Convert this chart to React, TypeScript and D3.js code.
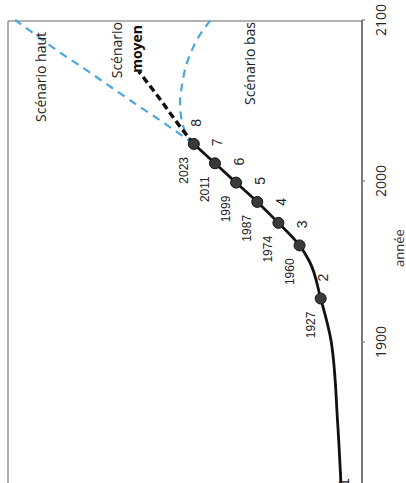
import React from 'react';
import * as d3 from 'd3';

// Historical world population (billions)
const historyYears = [1800, 1850, 1900, 1927, 1950, 1960, 1974, 1987, 1999, 2011, 2023];
const historyPop = [1.0, 1.2, 1.5, 2.0, 2.53, 3.0, 4.0, 5.0, 6.0, 7.0, 8.0];

// Milestones (each additional billion)
const milestoneYears = [1800, 1927, 1960, 1974, 1987, 1999, 2011, 2023];
const milestonePop = [1, 2, 3, 4, 5, 6, 7, 8];

// Projections
const hautYears = [2023, 2030, 2040, 2050, 2060, 2070, 2080, 2090, 2100];
const hautPop = [8, 8.75, 9.85, 11.0, 12.1, 13.2, 14.35, 15.4, 16.45];

const moyenYears = [2023, 2035, 2050, 2068];
const moyenPop = [8, 8.72, 9.55, 10.6];

const basYears = [2023, 2030, 2040, 2050, 2060, 2070, 2080, 2090, 2100];
const basPop = [8, 8.38, 8.6, 8.65, 8.55, 8.4, 8.13, 7.75, 7.2];

const axisTicks = [1900, 2000, 2100];

type P = [number, number];
const zip = (a: number[], b: number[]): P[] => a.map((v, i) => [v, b[i]]);

const W = 406;
const H = 483;

export default function App() {
  const frameLeft = 8;
  const frameTop = 21;
  const axisX = 362;

  const y = d3.scaleLinear().domain([1900, 2100]).range([342, 20]);
  const x = d3.scaleLinear().domain([0, 8]).range([363, 363 - 8 * 21.15]);

  const line = d3
    .line<P>()
    .x((d) => x(d[1]))
    .y((d) => y(d[0]))
    .curve(d3.curveMonotoneY);

  const blue = '#4aa8de';
  const dataFont = '"Liberation Sans", Arial, sans-serif';
  const labelFont = '"Open Sans", sans-serif';

  const rot = (px: number, py: number) => `translate(${px},${py}) rotate(-90)`;

  return (
    <svg
      width={W}
      height={H}
      style={{ position: 'absolute', left: 0, top: 0, display: 'block', background: '#fff' }}
    >
      <rect x={0} y={0} width={W} height={H} fill="#fff" />
      {/* frame */}
      <line x1={frameLeft} y1={frameTop} x2={frameLeft} y2={H} stroke="#9a9a9a" strokeWidth={1.6} />
      <line x1={frameLeft} y1={frameTop} x2={axisX} y2={frameTop} stroke="#9a9a9a" strokeWidth={1.6} />
      <line x1={axisX} y1={frameTop - 1} x2={axisX} y2={H} stroke="#7a7a7a" strokeWidth={2} />
      {axisTicks.map((t) => (
        <g key={t}>
          <line x1={axisX} y1={y(t)} x2={axisX + 3} y2={y(t)} stroke="#7a7a7a" strokeWidth={1.2} />
          <text
            transform={rot(386, y(t))}
            textAnchor="middle"
            fontFamily={labelFont}
            fontSize={14}
            fill="#222"
          >
            {t}
          </text>
        </g>
      ))}
      <text transform={rot(403.5, 248)} textAnchor="middle" fontFamily={labelFont} fontSize={13} fill="#333">
        année
      </text>

      {/* history */}
      <path d={line(zip(historyYears, historyPop)) || ''} fill="none" stroke="#111" strokeWidth={2.8} />

      {/* scenarios */}
      <path
        d={line(zip(hautYears, hautPop)) || ''}
        fill="none"
        stroke={blue}
        strokeWidth={2.2}
        strokeDasharray="8 6"
      />
      <path
        d={line(zip(basYears, basPop)) || ''}
        fill="none"
        stroke={blue}
        strokeWidth={2.2}
        strokeDasharray="8 6"
      />
      <path
        d={line(zip(moyenYears, moyenPop)) || ''}
        fill="none"
        stroke="#111"
        strokeWidth={3.4}
        strokeDasharray="7 4"
      />

      {/* milestones */}
      {milestoneYears.map((yr, i) => {
        const cx = x(milestonePop[i]);
        const cy = y(yr);
        return (
          <g key={yr}>
            <circle cx={cx} cy={cy} r={5.5} fill="#3a3a3a" stroke="#111" strokeWidth={1} />
            <text
              transform={rot(cx - 6, cy + 13)}
              textAnchor="end"
              fontFamily={dataFont}
              fontSize={12}
              fill="#222"
            >
              {yr}
            </text>
            <text
              transform={rot(cx + 7.5, cy - 21)}
              textAnchor="middle"
              fontFamily={dataFont}
              fontSize={14}
              fill="#222"
            >
              {milestonePop[i]}
            </text>
          </g>
        );
      })}

      {/* scenario labels */}
      <text transform={rot(45.5, 32)} textAnchor="end" fontFamily={labelFont} fontSize={14} fill="#222">
        Scénario haut
      </text>
      <text transform={rot(122, 22)} textAnchor="end" fontFamily={labelFont} fontSize={14} fill="#222">
        Scénario
      </text>
      <text
        transform={rot(141.5, 25)}
        textAnchor="end"
        fontFamily={labelFont}
        fontSize={14}
        fontWeight="bold"
        fill="#111"
      >
        moyen
      </text>
      <text transform={rot(255, 22)} textAnchor="end" fontFamily={labelFont} fontSize={14} fill="#222">
        Scénario bas
      </text>
    </svg>
  );
}
